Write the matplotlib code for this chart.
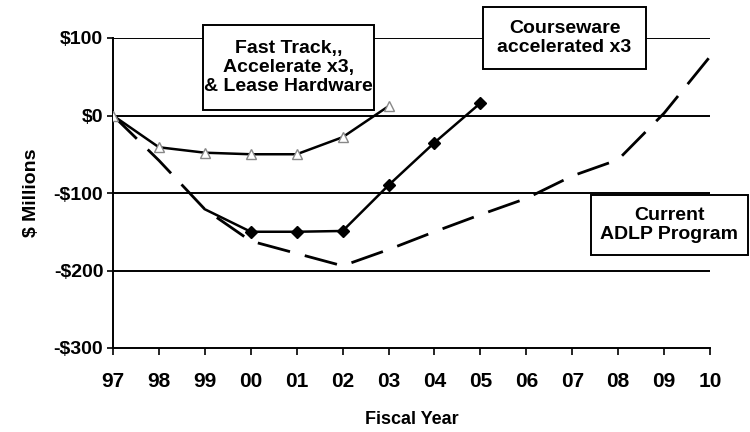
import matplotlib.pyplot as plt
import numpy as np
from matplotlib.patches import Rectangle

plt.rcParams['font.family'] = ['Liberation Sans', 'DejaVu Sans']
plt.rcParams['font.weight'] = 'bold'

nan = np.nan

# -----------------------------------------------------------------------------
# Data ($ millions, by fiscal year)
# -----------------------------------------------------------------------------
years = ['97', '98', '99', '00', '01', '02', '03', '04', '05', '06', '07', '08', '09', '10']
fast_track = [0, -41, -48, -50, -50, -28, 12, nan, nan, nan, nan, nan, nan, nan]
courseware = [nan, nan, -121, -150, -150, -149, -90, -35, 16, nan, nan, nan, nan, nan]
current_adlp = [0, -58, -121, -162, -178, -194, -173, -150, -128, -107, -78, -57, 3, 76]

y_ticks = [-300, -200, -100, 0, 100]
y_labels = ['-$300', '-$200', '-$100', '$0', '$100']
grid_levels = [-200, -100, 0, 100]

box_texts = ['Fast Track,,\nAccelerate x3,\n& Lease Hardware',
             'Courseware\naccelerated x3',
             'Current\nADLP Program']

# -----------------------------------------------------------------------------
# Plot
# -----------------------------------------------------------------------------
W, H = 750, 432
fig = plt.figure(figsize=(W / 100, H / 100), dpi=100)
ax = fig.add_axes([113 / W, 1 - 348 / H, (710 - 113) / W, (348 - 38) / H])

x = np.arange(len(years))

for lvl in grid_levels:
    ax.axhline(lvl, color='black', lw=1.4, zorder=1)

ax.plot(x, current_adlp, color='black', lw=2.0, dashes=(12, 5.5), zorder=2)
ax.plot(x, courseware, color='black', lw=1.8, marker='D', markersize=6,
        markevery=list(range(3, 9)), zorder=3)
ax.plot(x, fast_track, color='black', lw=1.8, marker='^', markersize=7,
        markerfacecolor='white', markeredgecolor='#888888', markeredgewidth=1.0,
        zorder=4)

ax.set_xlim(0, len(years) - 1)
ax.set_ylim(-300, 100)
ax.set_xticks(x)
ax.set_xticklabels(years)
ax.set_yticks(y_ticks)
ax.set_yticklabels(y_labels)
ax.tick_params(axis='x', direction='out', length=5, width=1.2, pad=12, labelsize=15)
ax.tick_params(axis='y', direction='out', length=4, width=1.2, pad=3, labelsize=14)

for side in ['top', 'right']:
    ax.spines[side].set_visible(False)
for side in ['left', 'bottom']:
    ax.spines[side].set_linewidth(1.4)

ax.set_xlabel('Fiscal Year', fontsize=13, fontweight='bold', labelpad=15)
ax.set_ylabel('$ Millions', fontsize=14, fontweight='bold', labelpad=10)

# label boxes (pixel extents: left, top, right, bottom)
boxes = [(203, 25, 374, 110), (483, 7, 646, 69), (591, 195, 748, 255)]
for (l, t, r, b), txt in zip(boxes, box_texts):
    rect = Rectangle((l / W, 1 - b / H), (r - l) / W, (b - t) / H,
                     transform=fig.transFigure, facecolor='white',
                     edgecolor='black', lw=1.4, zorder=10)
    fig.add_artist(rect)
    fig.text((l + r) / 2 / W, 1 - (t + b) / 2 / H, txt, ha='center', va='center',
             fontsize=14, fontweight='bold', linespacing=1.15, zorder=11)

fig.savefig('out.png', dpi=100)
